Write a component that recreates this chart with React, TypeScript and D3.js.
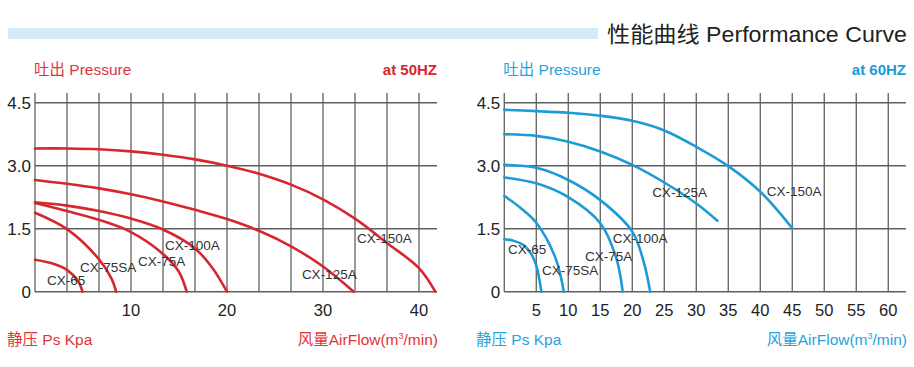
import React from "react";
import * as d3 from "d3";

// ---------- data ----------
const yTicks = [0, 1.5, 3.0, 4.5];
const yTickLabels = ["0", "1.5", "3.0", "4.5"];

const leftXTicks = [10, 20, 30, 40];
const rightXTicks = [5, 10, 15, 20, 25, 30, 35, 40, 45, 50, 55, 60];

const models = ["CX-65", "CX-75SA", "CX-75A", "CX-100A", "CX-125A", "CX-150A"];

// 50HZ curves
const l65x = [0, 2, 3.33, 4.5, 4.95];
const l65y = [0.76, 0.66, 0.52, 0.25, 0];
const l75SAx = [0, 3.33, 6.67, 8, 8.45];
const l75SAy = [1.88, 1.49, 0.77, 0.3, 0];
const l75Ax = [0, 3.33, 6.67, 10, 13.33, 15, 15.8];
const l75Ay = [2.11, 1.92, 1.71, 1.42, 0.9, 0.47, 0];
const l100Ax = [0, 3.33, 6.67, 10, 13.33, 16.67, 18.5, 20];
const l100Ay = [2.13, 2.05, 1.92, 1.74, 1.48, 1.03, 0.56, 0];
const l125Ax = [0, 3.33, 6.67, 10, 13.33, 16.67, 20, 23.33, 26.67, 30, 33.2];
const l125Ay = [2.66, 2.57, 2.46, 2.32, 2.15, 1.95, 1.73, 1.45, 1.08, 0.6, 0];
const l150Ax = [0, 3.33, 6.67, 10, 13.33, 16.67, 20, 23.33, 26.67, 30, 33.33, 36.67, 40, 41.7];
const l150Ay = [3.41, 3.41, 3.39, 3.34, 3.26, 3.15, 3.0, 2.81, 2.55, 2.2, 1.74, 1.16, 0.56, 0];

// 60HZ curves
const r65x = [0, 1.5, 3, 4.2, 5, 5.8];
const r65y = [1.25, 1.21, 1.11, 0.9, 0.62, 0];
const r75SAx = [0, 2.5, 5, 8, 9.3];
const r75SAy = [2.28, 2.0, 1.64, 0.8, 0];
const r75Ax = [0, 5, 10, 15, 17.5, 18.5];
const r75Ay = [2.72, 2.58, 2.25, 1.63, 0.8, 0];
const r100Ax = [0, 5, 10, 15, 20, 21.8, 22.8];
const r100Ay = [3.02, 2.95, 2.66, 2.18, 1.43, 0.7, 0];
const r125Ax = [0, 5, 10, 15, 20, 25, 30, 33.3];
const r125Ay = [3.75, 3.71, 3.57, 3.34, 3.02, 2.6, 2.1, 1.69];
const r150Ax = [0, 5, 10, 15, 20, 25, 30, 35, 40, 45];
const r150Ay = [4.33, 4.3, 4.26, 4.19, 4.07, 3.84, 3.45, 2.99, 2.38, 1.51];

// label anchors (data units)
const leftLabelX = [1.25, 4.69, 10.73, 13.54, 27.8, 33.54];
const leftLabelY = [0.17, 0.48, 0.62, 1.0, 0.31, 1.17];
const rightLabelX = [0.58, 5.89, 12.6, 16.95, 23.1, 41.0];
const rightLabelY = [0.89, 0.39, 0.72, 1.15, 2.25, 2.27];

const leftSeriesX = [l65x, l75SAx, l75Ax, l100Ax, l125Ax, l150Ax];
const leftSeriesY = [l65y, l75SAy, l75Ay, l100Ay, l125Ay, l150Ay];
const rightSeriesX = [r65x, r75SAx, r75Ax, r100Ax, r125Ax, r150Ax];
const rightSeriesY = [r65y, r75SAy, r75Ay, r100Ay, r125Ay, r150Ay];

const FONT = "'Liberation Sans', Arial, 'Noto Sans CJK SC', sans-serif";

type PanelProps = {
  x0: number;
  x1: number;
  xMax: number;
  gridStep: number;
  xTicks: number[];
  seriesX: number[][];
  seriesY: number[][];
  labelX: number[];
  labelY: number[];
  color: string;
  textColor: string;
  freq: string;
  bottomLeftX: number;
};

function Panel(p: PanelProps) {
  const x = d3.scaleLinear().domain([0, p.xMax]).range([p.x0, p.x1]);
  const y = d3.scaleLinear().domain([0, 4.5]).range([291.7, 102.7]);
  const gridTop = 93;
  const nGrid = Math.floor(p.xMax / p.gridStep + 1e-6);
  const grid = d3.range(0, nGrid + 1).map((i) => i * p.gridStep);
  const line = d3
    .line<[number, number]>()
    .x((d) => x(d[0]))
    .y((d) => y(d[1]))
    .curve(d3.curveCatmullRom.alpha(0.5));
  return (
    <g fontFamily={FONT}>
      {grid.map((g, i) => (
        <line key={"v" + i} x1={x(g)} x2={x(g)} y1={gridTop} y2={y(0)} stroke="#6b6b6b" strokeWidth={1.4} />
      ))}
      {yTicks.map((t, i) => (
        <line key={"h" + i} x1={x(0)} x2={p.x1} y1={y(t)} y2={y(t)} stroke="#5e5e5e" strokeWidth={1.6} />
      ))}
      {yTicks.map((t, i) => (
        <text key={"yl" + i} x={x(0) - 4} y={y(t) + 6} textAnchor="end" fontSize={17} fill="#222">
          {yTickLabels[i]}
        </text>
      ))}
      {p.xTicks.map((t, i) => (
        <text key={"xl" + i} x={x(t)} y={316} textAnchor="middle" fontSize={16.5} fill="#222">
          {String(t)}
        </text>
      ))}
      {p.seriesX.map((xs, i) => (
        <path
          key={"c" + i}
          d={line(xs.map((v, j) => [v, p.seriesY[i][j]]) as [number, number][]) || ""}
          fill="none"
          stroke={p.color}
          strokeWidth={2.6}
          strokeLinecap="round"
        />
      ))}
      {models.map((m, i) => (
        <text key={"lab" + i} x={x(p.labelX[i])} y={y(p.labelY[i])} fontSize={13.5} fill="#333">
          {m}
        </text>
      ))}
      <text x={x(0) - 1} y={75} fontSize={15.5} fill={p.textColor}>
        吐出 Pressure
      </text>
      <text x={p.x1} y={75} fontSize={15} fontWeight="bold" textAnchor="end" fill={p.color}>
        {p.freq}
      </text>
      <text x={p.bottomLeftX} y={345} fontSize={15.5} fill={p.textColor}>
        静压 Ps Kpa
      </text>
      <text x={p.x1 + 1} y={345} fontSize={15.5} textAnchor="end" fill={p.textColor}>
        风量AirFlow(m<tspan dy={-6} fontSize={9}>3</tspan>
        <tspan dy={6}>/min)</tspan>
      </text>
    </g>
  );
}

export default function App() {
  return (
    <svg
      width={914}
      height={367}
      viewBox="0 0 914 367"
      style={{ position: "absolute", left: 0, top: 0, background: "#fff" }}
    >
      <rect x={0} y={0} width={914} height={367} fill="#fff" />
      <rect x={8} y={28} width={590} height={11} fill="#d3ebf8" />
      <text
        x={607}
        y={42}
        fontSize={22}
        fill="#222"
        fontFamily={FONT}
        textLength={300}
        lengthAdjust="spacingAndGlyphs"
      >
        性能曲线 Performance Curve
      </text>
      <Panel
        x0={35}
        x1={437}
        xMax={41.875}
        gridStep={10 / 3}
        xTicks={leftXTicks}
        seriesX={leftSeriesX}
        seriesY={leftSeriesY}
        labelX={leftLabelX}
        labelY={leftLabelY}
        color="#d7262e"
        textColor="#e0343a"
        freq="at 50HZ"
        bottomLeftX={7}
      />
      <Panel
        x0={504.3}
        x1={906}
        xMax={62.77}
        gridStep={5}
        xTicks={rightXTicks}
        seriesX={rightSeriesX}
        seriesY={rightSeriesY}
        labelX={rightLabelX}
        labelY={rightLabelY}
        color="#1b9bd7"
        textColor="#26a3dd"
        freq="at 60HZ"
        bottomLeftX={476}
      />
    </svg>
  );
}
